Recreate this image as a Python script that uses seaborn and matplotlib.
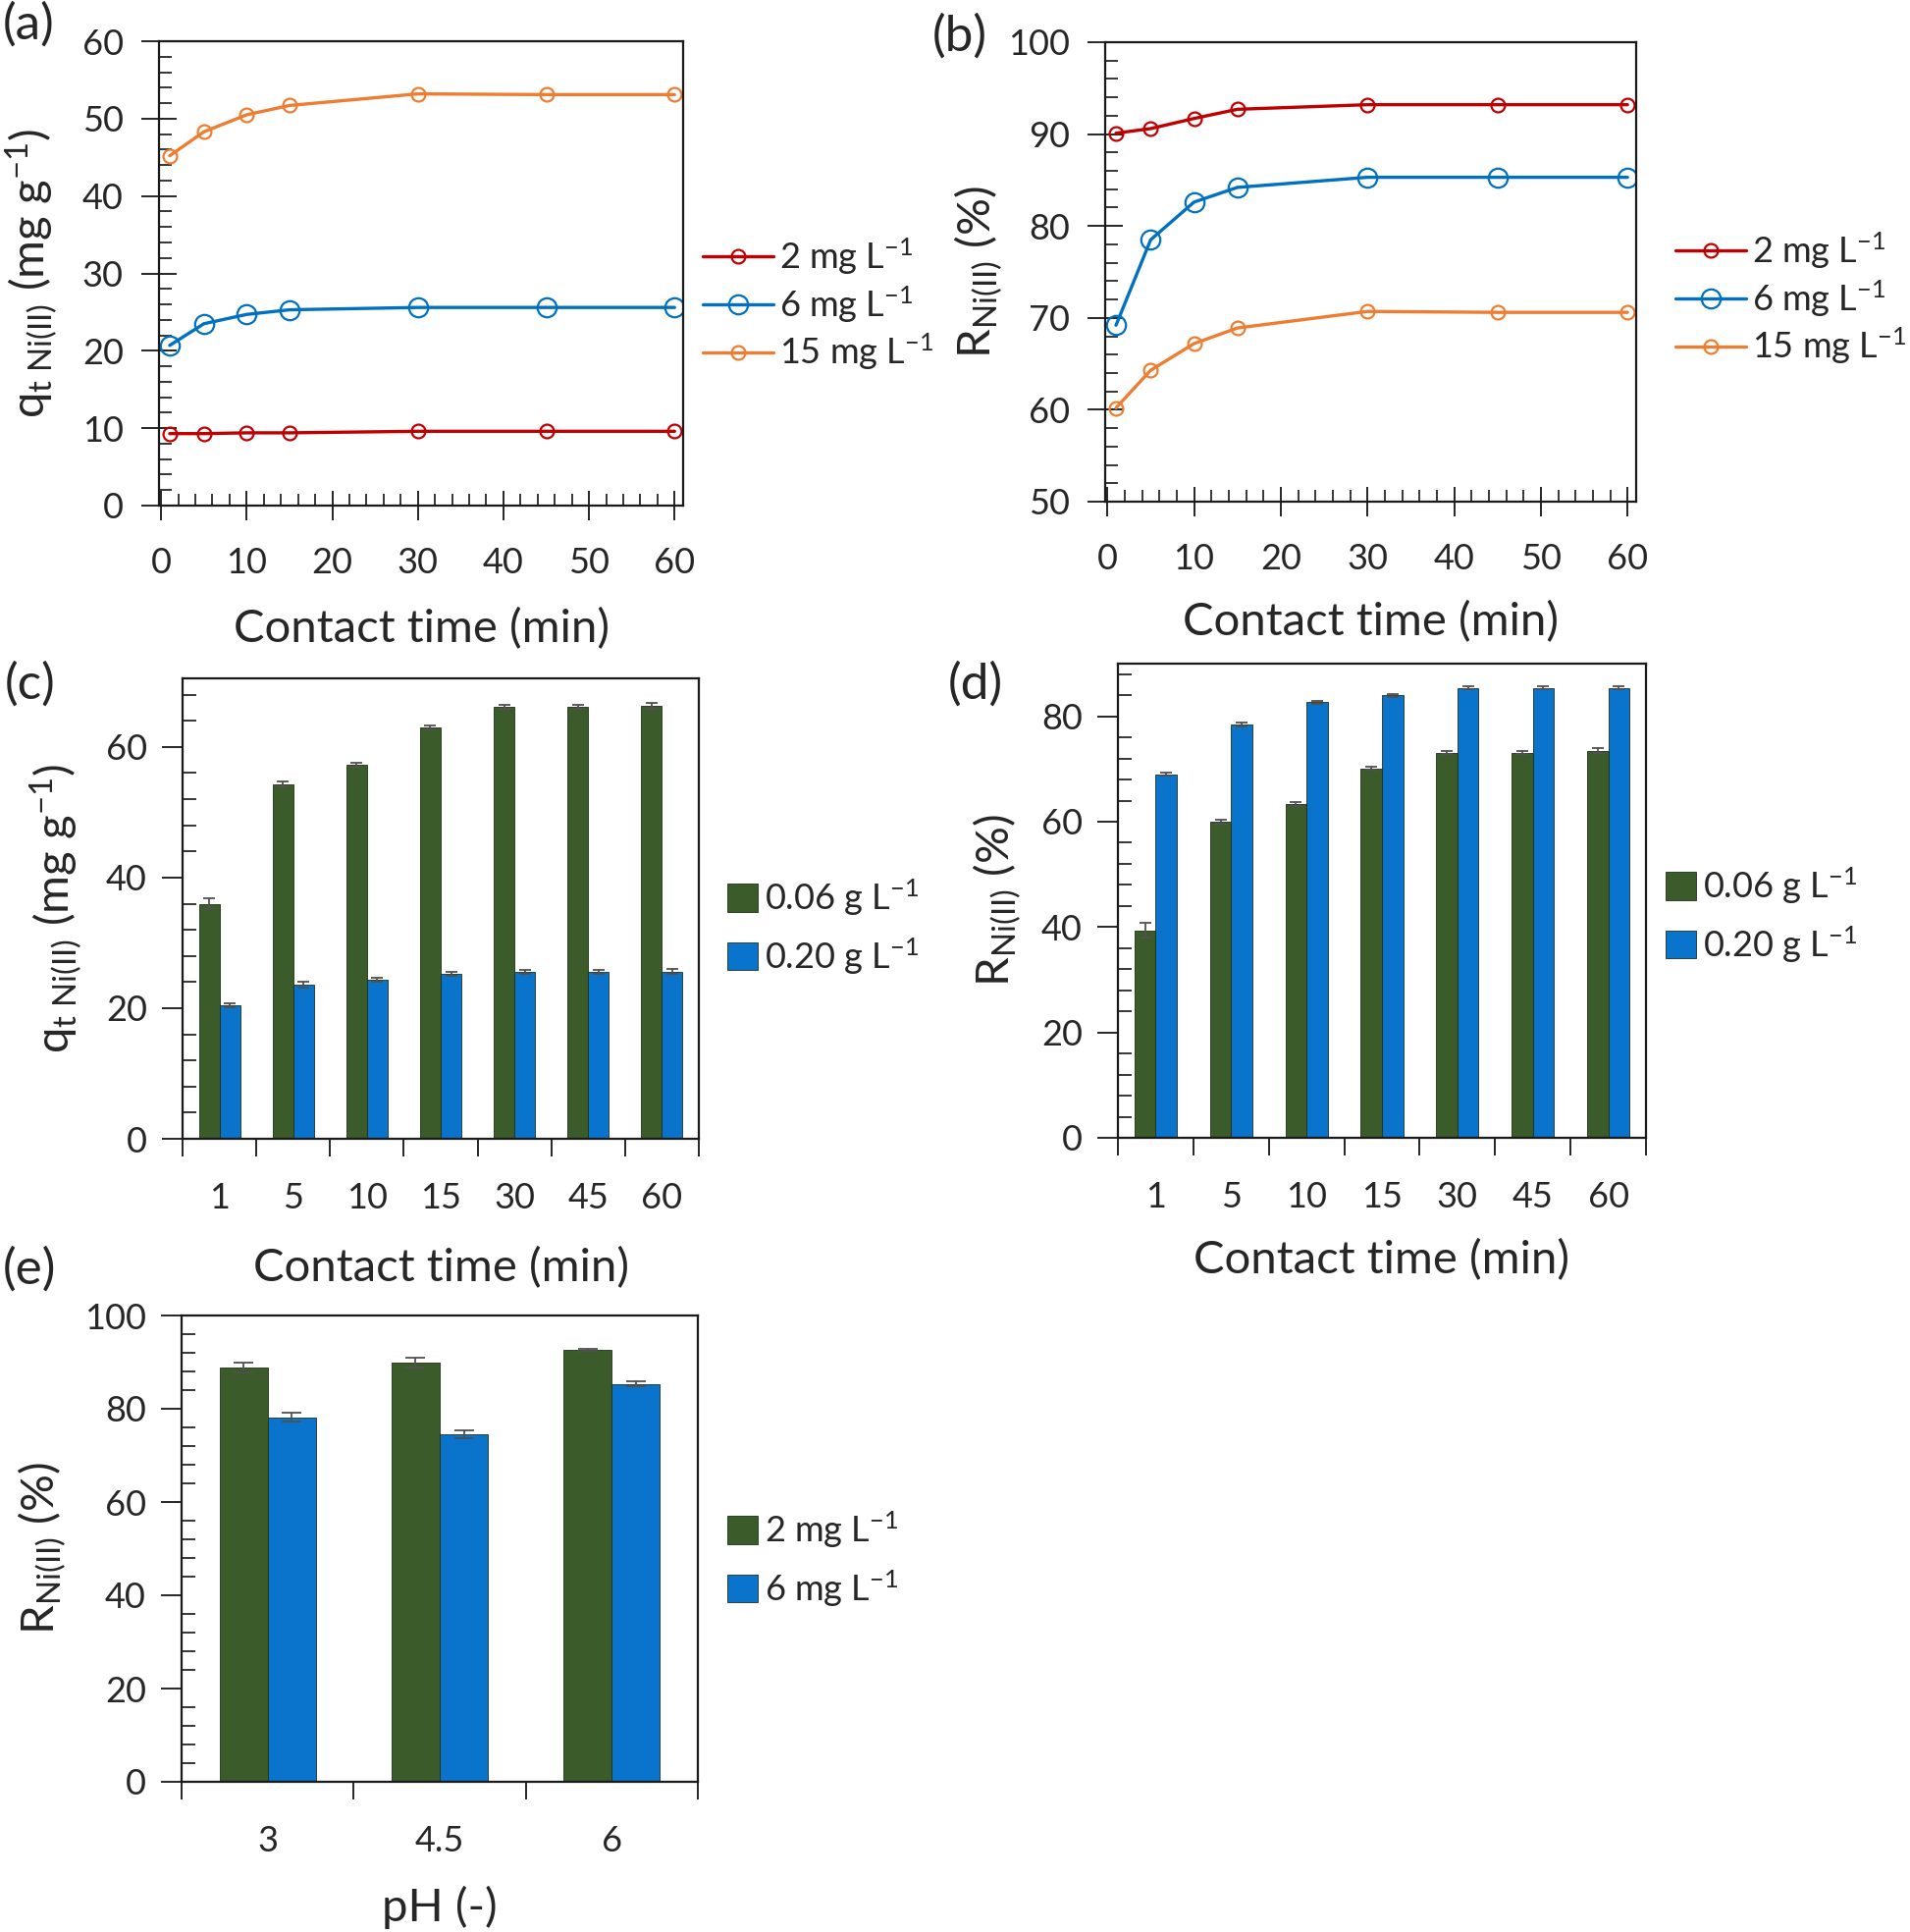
import numpy as np
import pandas as pd
import matplotlib
matplotlib.use("Agg")
import matplotlib.pyplot as plt
from matplotlib.ticker import MultipleLocator, FixedLocator, NullFormatter
import seaborn as sns

# ---------------- data ----------------
time_min = [1, 5, 10, 15, 30, 45, 60]
time_labels = ['1', '5', '10', '15', '30', '45', '60']

# (a) adsorption capacity vs time
qt_2 = [9.3, 9.3, 9.4, 9.4, 9.6, 9.6, 9.6]
qt_6 = [20.7, 23.5, 24.7, 25.3, 25.6, 25.6, 25.6]
qt_15 = [45.2, 48.3, 50.5, 51.7, 53.2, 53.1, 53.1]

# (b) removal vs time
r_2 = [90.1, 90.6, 91.7, 92.7, 93.2, 93.2, 93.2]
r_6 = [69.2, 78.5, 82.6, 84.2, 85.3, 85.3, 85.3]
r_15 = [60.2, 64.3, 67.2, 68.9, 70.7, 70.6, 70.6]

# (c) capacity vs time for two doses
qc_006 = [36.0, 54.3, 57.2, 63.0, 66.1, 66.1, 66.3]
qc_006_err = [0.8, 0.4, 0.3, 0.3, 0.3, 0.3, 0.4]
qc_020 = [20.5, 23.6, 24.4, 25.2, 25.6, 25.6, 25.6]
qc_020_err = [0.3, 0.5, 0.3, 0.3, 0.3, 0.3, 0.4]

# (d) removal vs time for two doses
rd_006 = [39.4, 60.0, 63.3, 70.1, 73.1, 73.1, 73.5]
rd_006_err = [1.4, 0.4, 0.4, 0.3, 0.3, 0.3, 0.4]
rd_020 = [69.0, 78.5, 82.7, 84.0, 85.4, 85.4, 85.4]
rd_020_err = [0.3, 0.4, 0.3, 0.3, 0.3, 0.3, 0.3]

# (e) removal vs pH
ph_labels = ['3', '4.5', '6']
re_2 = [88.8, 89.9, 92.7]
re_2_err = [1.0, 1.0, 0.2]
re_6 = [78.2, 74.5, 85.3]
re_6_err = [1.0, 0.8, 0.5]

# ---------------- style ----------------
sns.set_style('ticks')
plt.rcParams['font.family'] = ['Lato', 'DejaVu Sans']
plt.rcParams['mathtext.fontset'] = 'custom'
plt.rcParams['mathtext.rm'] = 'Lato'
plt.rcParams['mathtext.it'] = 'Lato:italic'
plt.rcParams['mathtext.bf'] = 'Lato:bold'
plt.rcParams['axes.linewidth'] = 1.6
plt.rcParams['axes.edgecolor'] = '#1a1a1a'

RED, BLUE, ORANGE = '#C00000', '#0070C0', '#ED7D31'
GREEN_BAR, BLUE_BAR = '#3C5B2A', '#0A74CC'
TICK_FS, LAB_FS, LEG_FS, PANEL_FS = 26, 34, 26, 37

q_label = r'q$_{\mathrm{t\ Ni(II)}}$ (mg g$^{-1}$)'
r_label = r'R$_{\mathrm{Ni(II)}}$ (%)'
time_xlabel = 'Contact time (min)'

W, H = 1946, 1968
fig = plt.figure(figsize=(W / 100, H / 100), dpi=100)


def add_ax(left, right, top, bottom):
    return fig.add_axes([left / W, 1 - bottom / H, (right - left) / W, (bottom - top) / H])


def legend_at(ax, handles, labels, x_px, y_px, **kw):
    ax.legend(handles, labels, loc='center left', bbox_to_anchor=(x_px / W, 1 - y_px / H),
              bbox_transform=fig.transFigure, frameon=False, fontsize=LEG_FS,
              borderpad=0, borderaxespad=0, **kw)


def line_panel(ax, series, ylim, yminor, leg_x, leg_y, ylab_x, xlab_y):
    for vals, color, ms, lab in series:
        sns.lineplot(x=time_min, y=vals, ax=ax, color=color, linewidth=2.4, marker='o',
                     markersize=ms, markerfacecolor='none', markeredgecolor=color,
                     markeredgewidth=1.6, label=lab, errorbar=None)
    ax.set_xlim(-0.25, 61)
    ax.set_ylim(*ylim)
    ax.xaxis.set_major_locator(MultipleLocator(10))
    ax.xaxis.set_minor_locator(MultipleLocator(2))
    ax.yaxis.set_major_locator(MultipleLocator(10))
    ax.yaxis.set_minor_locator(MultipleLocator(yminor))
    ax.tick_params(axis='y', which='major', direction='inout', length=26, width=1.4,
                   pad=13, labelsize=TICK_FS)
    ax.tick_params(axis='x', which='major', direction='inout', length=22, width=1.4,
                   pad=19, labelsize=TICK_FS)
    ax.tick_params(axis='both', which='minor', direction='in', length=9, width=1.3)
    ax.set_xlabel(time_xlabel, fontsize=LAB_FS)
    ax.set_ylabel(r_label if ylim[0] == 50 else q_label, fontsize=LAB_FS)
    ax.yaxis.set_label_coords(ylab_x, 0.5)
    ax.xaxis.set_label_coords(0.5, xlab_y)
    h, l = ax.get_legend_handles_labels()
    legend_at(ax, h, l, leg_x, leg_y, handlelength=2.0, handletextpad=0.15, labelspacing=0.2)


def bar_panel(ax, cats, g_vals, g_err, b_vals, b_err, names, ylim, ylabel,
              leg_x, leg_y, ylab_x, xlab_y, xlabel, capsize):
    n = len(cats)
    df = pd.DataFrame({'cat': cats * 2, 'val': g_vals + b_vals,
                       'grp': [names[0]] * n + [names[1]] * n})
    sns.barplot(data=df, x='cat', y='val', hue='grp', order=cats, hue_order=names,
                palette=[GREEN_BAR, BLUE_BAR], saturation=1, width=0.56, gap=0,
                errorbar=None, edgecolor='#1f2f14', linewidth=0.6, ax=ax)
    pos = np.arange(n)
    ax.errorbar(pos - 0.14, g_vals, yerr=g_err, fmt='none', ecolor='#505050',
                elinewidth=1.3, capsize=capsize, capthick=1.3)
    ax.errorbar(pos + 0.14, b_vals, yerr=b_err, fmt='none', ecolor='#505050',
                elinewidth=1.3, capsize=capsize, capthick=1.3)
    ax.set_xlim(-0.5, n - 0.5)
    ax.set_ylim(*ylim)
    ax.xaxis.set_major_locator(FixedLocator(np.arange(n + 1) - 0.5))
    ax.xaxis.set_major_formatter(NullFormatter())
    ax.xaxis.set_minor_locator(FixedLocator(pos))
    ax.set_xticklabels(cats, minor=True)
    ax.tick_params(axis='x', which='major', direction='out', length=13, width=1.4)
    ax.tick_params(axis='x', which='minor', length=0, pad=32, labelsize=TICK_FS)
    ax.yaxis.set_major_locator(MultipleLocator(20))
    ax.yaxis.set_minor_locator(MultipleLocator(4))
    ax.tick_params(axis='y', which='major', direction='out', length=15, width=1.4,
                   pad=11, labelsize=TICK_FS)
    ax.tick_params(axis='y', which='minor', direction='in', length=10, width=1.3)
    ax.set_xlabel(xlabel, fontsize=LAB_FS)
    ax.set_ylabel(ylabel, fontsize=LAB_FS)
    ax.yaxis.set_label_coords(ylab_x, 0.5)
    ax.xaxis.set_label_coords(0.5, xlab_y)
    for s in ax.spines.values():
        s.set_visible(True)
    h, l = ax.get_legend_handles_labels()
    legend_at(ax, h, l, leg_x, leg_y, handlelength=0.85, handleheight=0.85,
              handletextpad=0.2, labelspacing=0.5)


conc_names = ['2 mg L$^{-1}$', '6 mg L$^{-1}$', '15 mg L$^{-1}$']
dose_names = ['0.06 g L$^{-1}$', '0.20 g L$^{-1}$']

# (a)
ax_a = add_ax(162, 696, 42, 515)
line_panel(ax_a, [(qt_2, RED, 10, conc_names[0]), (qt_6, BLUE, 14, conc_names[1]),
                  (qt_15, ORANGE, 10, conc_names[2])],
           (0, 60), 2, 716, 310, -0.19, -0.221)

# (b)
ax_b = add_ax(1126, 1667, 43, 511)
line_panel(ax_b, [(r_2, RED, 10, conc_names[0]), (r_6, BLUE, 14, conc_names[1]),
                  (r_15, ORANGE, 10, conc_names[2])],
           (50, 100), 2, 1707, 304, -0.19, -0.216)

# (c)
ax_c = add_ax(186, 712, 691, 1160)
bar_panel(ax_c, time_labels, qc_006, qc_006_err, qc_020, qc_020_err, dose_names,
          (0, 70.5), q_label, 741, 944, -0.19, -0.234, time_xlabel, 4)

# (d)
ax_d = add_ax(1139, 1677, 676, 1159)
bar_panel(ax_d, time_labels, rd_006, rd_006_err, rd_020, rd_020_err, dose_names,
          (0, 90), r_label, 1697, 932, -0.18, -0.213, time_xlabel, 4)

# (e)
ax_e = add_ax(185, 711, 1340, 1815)
bar_panel(ax_e, ph_labels, re_2, re_2_err, re_6, re_6_err, conc_names[:2],
          (0, 100), r_label, 741, 1588, -0.22, -0.223, 'pH (-)', 7)

# panel letters
for txt, x, y in [('(a)', 3, 2), ('(b)', 950, 14), ('(c)', 5, 674),
                  ('(d)', 966, 674), ('(e)', 3, 1270)]:
    fig.text(x / W, 1 - y / H, txt, fontsize=PANEL_FS, ha='left', va='top')

fig.savefig('out.png', dpi=100)
